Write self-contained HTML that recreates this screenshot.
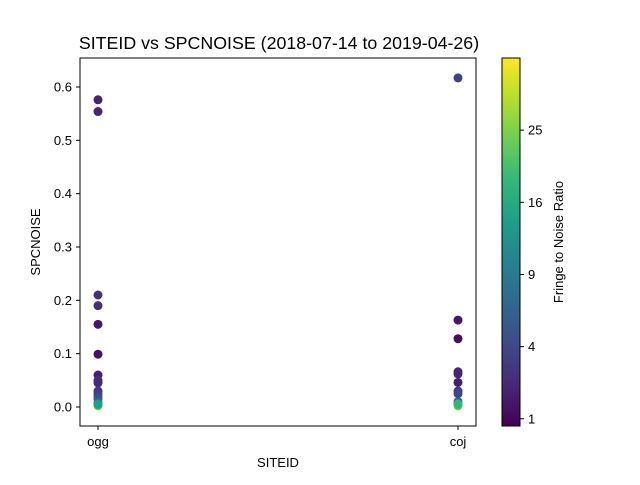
<!DOCTYPE html>
<html><head><meta charset="utf-8"><style>
body{margin:0;background:#fff}
svg text{font-family:"Liberation Sans","DejaVu Sans",sans-serif;fill:#000}
</style></head><body>
<svg id="chart" width="640" height="480" xmlns="http://www.w3.org/2000/svg">
<defs><linearGradient id="vg" x1="0" y1="1" x2="0" y2="0"></linearGradient></defs>
<text x="279" y="49" font-size="17.8" text-anchor="middle">SITEID vs SPCNOISE (2018-07-14 to 2019-04-26)</text>
<g id="pts"></g>
<rect x="80" y="58" width="396" height="368" fill="none" stroke="#000" stroke-width="1"/>
<g id="axes"></g>
<text x="278" y="467" font-size="13" text-anchor="middle">SITEID</text>
<text transform="translate(40,242) rotate(-90)" font-size="13" text-anchor="middle">SPCNOISE</text>
<rect x="502" y="58" width="18" height="368" fill="url(#vg)"/>
<rect x="502" y="58" width="18" height="368" fill="none" stroke="#000" stroke-width="1"/>
<text transform="translate(563,242) rotate(-90)" font-size="13" text-anchor="middle">Fringe to Noise Ratio</text>
</svg>
<script>
const categories=["ogg","coj"];
const oggValues=[0.002,0.576,0.554,0.21,0.19,0.155,0.099,0.06,0.05,0.045,0.03,0.025,0.02,0.015,0.008,0.003,0.005];
const oggFringe=[36,2,2,2.5,2.5,1.5,1.3,1.8,2.5,2.3,3,3.5,4,5,8,20,14];
const cojValues=[0.002,0.617,0.163,0.128,0.066,0.062,0.046,0.03,0.025,0.01,0.003,0.006];
const cojFringe=[34,3.5,1.5,1.2,2,2,1.8,3,4,6,20,18];
const yTicks=[0,0.1,0.2,0.3,0.4,0.5,0.6];
const cTicks=[1,4,9,16,25];
const NS="http://www.w3.org/2000/svg";
const xs=c=>98+categories.indexOf(c)*360;
const ys=v=>407-v*533.33;
const cmin=Math.sqrt(0.81),cmax=6;
const cs=f=>(Math.sqrt(f)-cmin)/(cmax-cmin);
const cy=f=>426-cs(f)*368;
const V=[[68,1,84],[72,40,120],[62,74,137],[49,104,142],[38,130,142],[31,158,137],[53,183,121],[109,205,89],[180,222,44],[253,231,37]];
function vir(t){t=Math.max(0,Math.min(1,t))*9;const i=Math.min(8,Math.floor(t)),f=t-i;const a=V[i],b=V[i+1];return`rgb(${a.map((v,k)=>Math.round(v+(b[k]-v)*f)).join(',')})`;}
const g=document.getElementById('vg');
V.forEach((c,i)=>{const s=document.createElementNS(NS,'stop');s.setAttribute('offset',i/9);s.setAttribute('stop-color',`rgb(${c})`);g.appendChild(s);});
function mk(t,a,p){const e=document.createElementNS(NS,t);for(const k in a)e.setAttribute(k,a[k]);p.appendChild(e);return e;}
const P=document.getElementById('pts'),A=document.getElementById('axes');
function draw(cat,vals,fr){vals.forEach((v,i)=>{const c=mk('circle',{cx:xs(cat),cy:ys(v),r:4.5,fill:vir(cs(fr[i]))},P);

});}
draw('ogg',oggValues,oggFringe);draw('coj',cojValues,cojFringe);
yTicks.forEach(t=>{const y=ys(t);mk('line',{x1:76,x2:80,y1:y,y2:y,stroke:'#000'},A);
const tx=mk('text',{x:72,y:y+4.5,'font-size':13,'text-anchor':'end'},A);tx.textContent=t.toFixed(1);

});
categories.forEach(c=>{const x=xs(c);mk('line',{x1:x,x2:x,y1:426,y2:430,stroke:'#000'},A);
const tx=mk('text',{x:x,y:446,'font-size':13,'text-anchor':'middle'},A);tx.textContent=c;

});
cTicks.forEach(t=>{const y=cy(t);mk('line',{x1:520,x2:524,y1:y,y2:y,stroke:'#000'},A);
const tx=mk('text',{x:528,y:y+4.5,'font-size':13},A);tx.textContent=t;

});
</script>
</body></html>
